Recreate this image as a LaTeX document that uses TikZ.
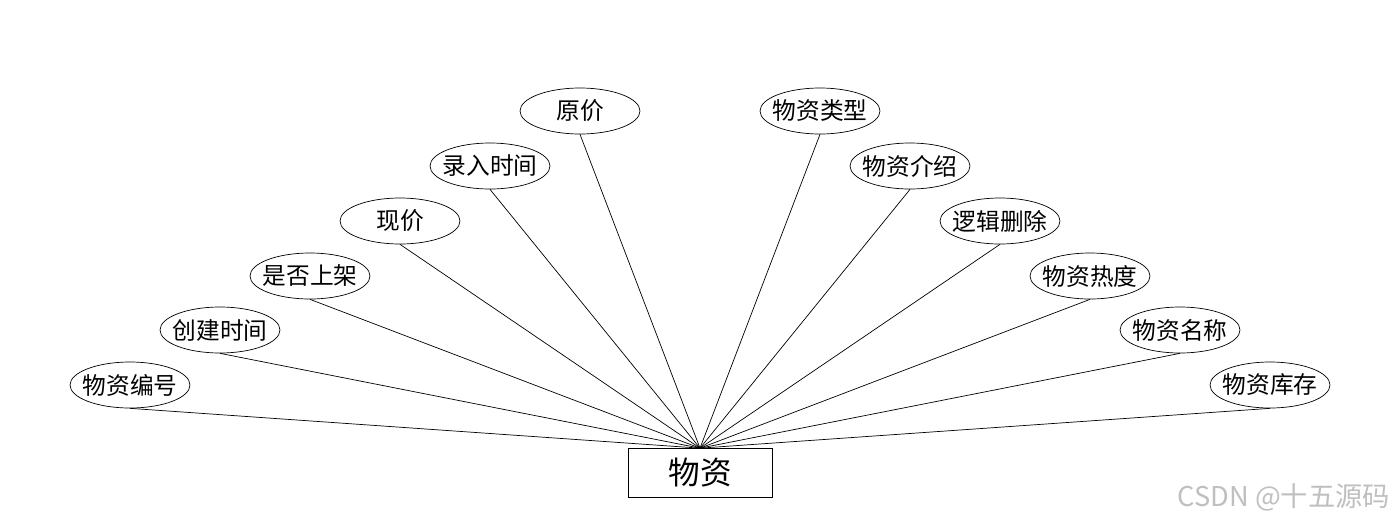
\documentclass[tikz,border=0pt]{standalone}
\usepackage{fontspec}
\setmainfont{Noto Sans CJK SC}
\usepackage{xcolor}
\usetikzlibrary{shapes.geometric}

\begin{document}
\begin{tikzpicture}[
  x=0.02cm, y=-0.02cm,
  attr/.style={draw, ellipse, minimum width=2.4cm, minimum height=0.92cm, inner xsep=-3.5pt, inner ysep=0pt, font=\fontsize{13.5}{15}\selectfont},
  entity/.style={draw, rectangle, minimum width=2.88cm, minimum height=0.98cm, font=\fontsize{18}{20}\selectfont},
  link/.style={thin}
]
  \useasboundingbox (0,0) rectangle (1400,528);

  \node[entity] (wz) at (700,473) {物资};

  % left side
  \node[attr] (a1) at (130,385) {物资编号};
  \node[attr] (a2) at (220,330) {创建时间};
  \node[attr] (a3) at (310,276) {是否上架};
  \node[attr] (a4) at (400,221) {现价};
  \node[attr] (a5) at (490,166) {录入时间};
  \node[attr] (a6) at (580,111) {原价};
  % right side
  \node[attr] (b1) at (820,111) {物资类型};
  \node[attr] (b2) at (910,166) {物资介绍};
  \node[attr] (b3) at (1000,221) {逻辑删除};
  \node[attr] (b4) at (1090,276) {物资热度};
  \node[attr] (b5) at (1180,330) {物资名称};
  \node[attr] (b6) at (1270,385) {物资库存};

  \foreach \n in {a1,a2,a3,a4,a5,a6,b1,b2,b3,b4,b5,b6}
    \draw[link] (\n.south) -- (wz.north);

  \node[text=black!25, anchor=east, font=\fontsize{15.5}{17}\selectfont] (wm) at (1396,497) {CSDN @十五源码};
\end{tikzpicture}
\end{document}
